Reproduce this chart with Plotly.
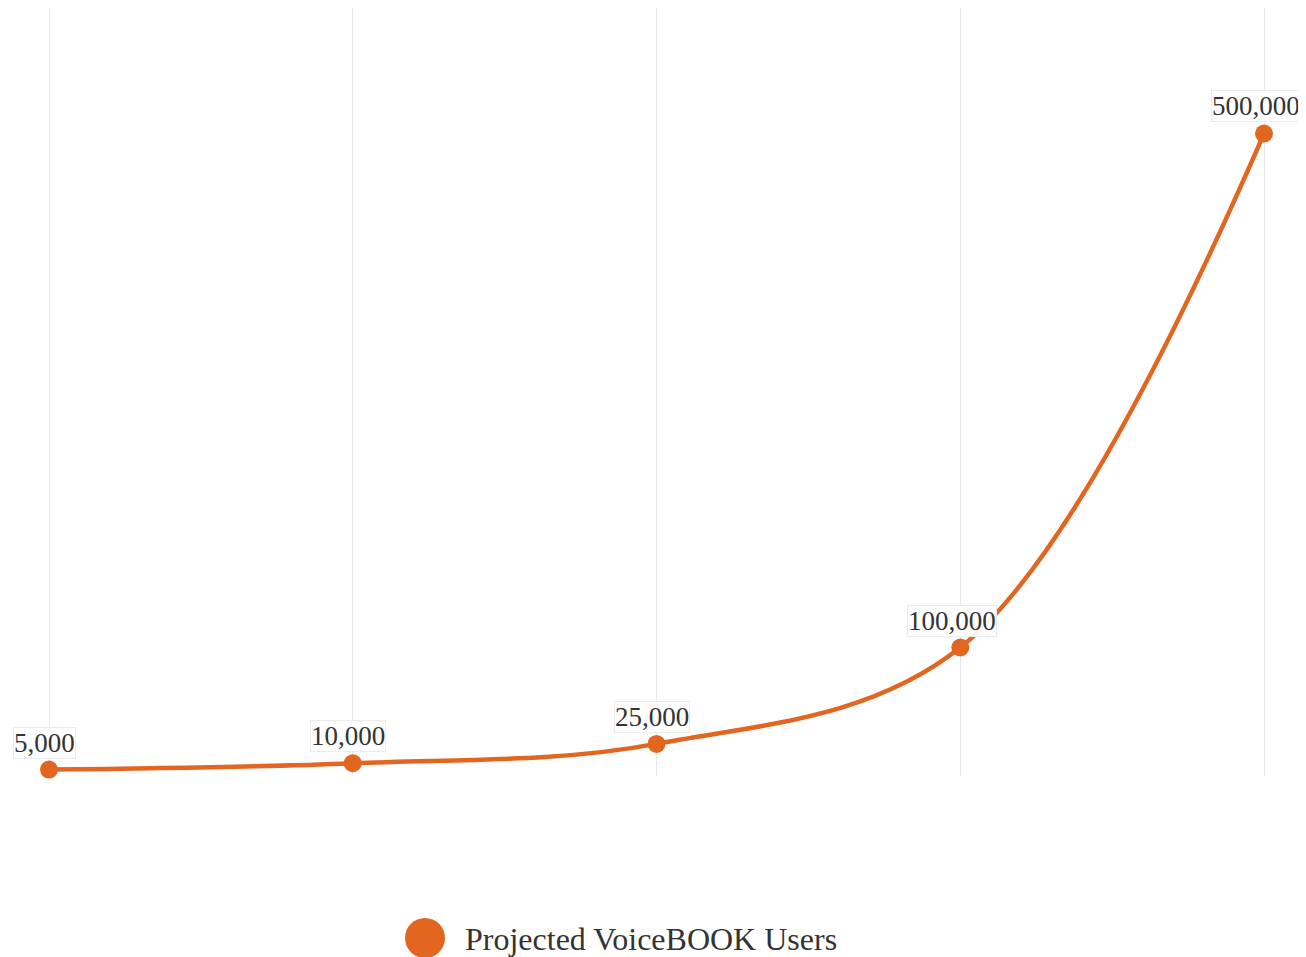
import plotly.graph_objects as go

categories = ["Stage 1", "Stage 2", "Stage 3", "Stage 4", "Stage 5"]
users = [5000, 10000, 25000, 100000, 500000]
labels = ["5,000", "10,000", "25,000", "100,000", "500,000"]
series_name = "Projected VoiceBOOK Users"

orange = "#E2661F"
W, H = 1298, 949          # page has an 8px body margin
PLOT_H = 768              # plot area height (figure px)

fig = go.Figure()
fig.add_trace(go.Scatter(
    x=list(range(len(categories))), y=users, mode="lines+markers",
    line=dict(color=orange, width=4.5, shape="spline", smoothing=1.0),
    marker=dict(color=orange, size=18),
    name=series_name, showlegend=False, cliponaxis=False,
))

for i, (v, t) in enumerate(zip(users, labels)):
    fig.add_annotation(
        x=i, y=v, text=t, showarrow=False, xref="x", yref="y",
        yshift=28 if i == 4 else 27, xshift=-8 if i >= 3 else -5,
        font=dict(family="Liberation Serif", size=27, color="#333333"),
        bgcolor="rgba(255,255,255,0.92)", bordercolor="#ebebeb", borderwidth=1, borderpad=0,
    )

# legend drawn at the bottom
cy = 938 - 8
fig.add_shape(type="circle", xref="paper", yref="paper",
              x0=(405 - 8) / W, x1=(445 - 8) / W,
              y0=-(cy + 20 - PLOT_H) / PLOT_H, y1=-(cy - 20 - PLOT_H) / PLOT_H,
              fillcolor=orange, line=dict(width=0))
fig.add_annotation(xref="paper", yref="paper", x=(463 - 8) / W, y=-(cy + 1 - PLOT_H) / PLOT_H,
                   xanchor="left", yanchor="middle", showarrow=False, text=series_name,
                   font=dict(family="Liberation Serif", size=32, color="#333333"))

fig.update_layout(
    width=W, height=H,
    margin=dict(l=0, r=0, t=0, b=H - PLOT_H),
    plot_bgcolor="white", paper_bgcolor="white",
    showlegend=False,
    xaxis=dict(range=[-41 / 303.75, 4 + 42 / 303.75], tickvals=list(range(5)),
               ticktext=categories, showticklabels=False, showgrid=True,
               gridcolor="#e8e8e8", gridwidth=1, zeroline=False, showline=False),
    yaxis=dict(range=[0, 597700], showgrid=False, zeroline=False,
               showticklabels=False, showline=False),
)
fig.write_html("out.html")
